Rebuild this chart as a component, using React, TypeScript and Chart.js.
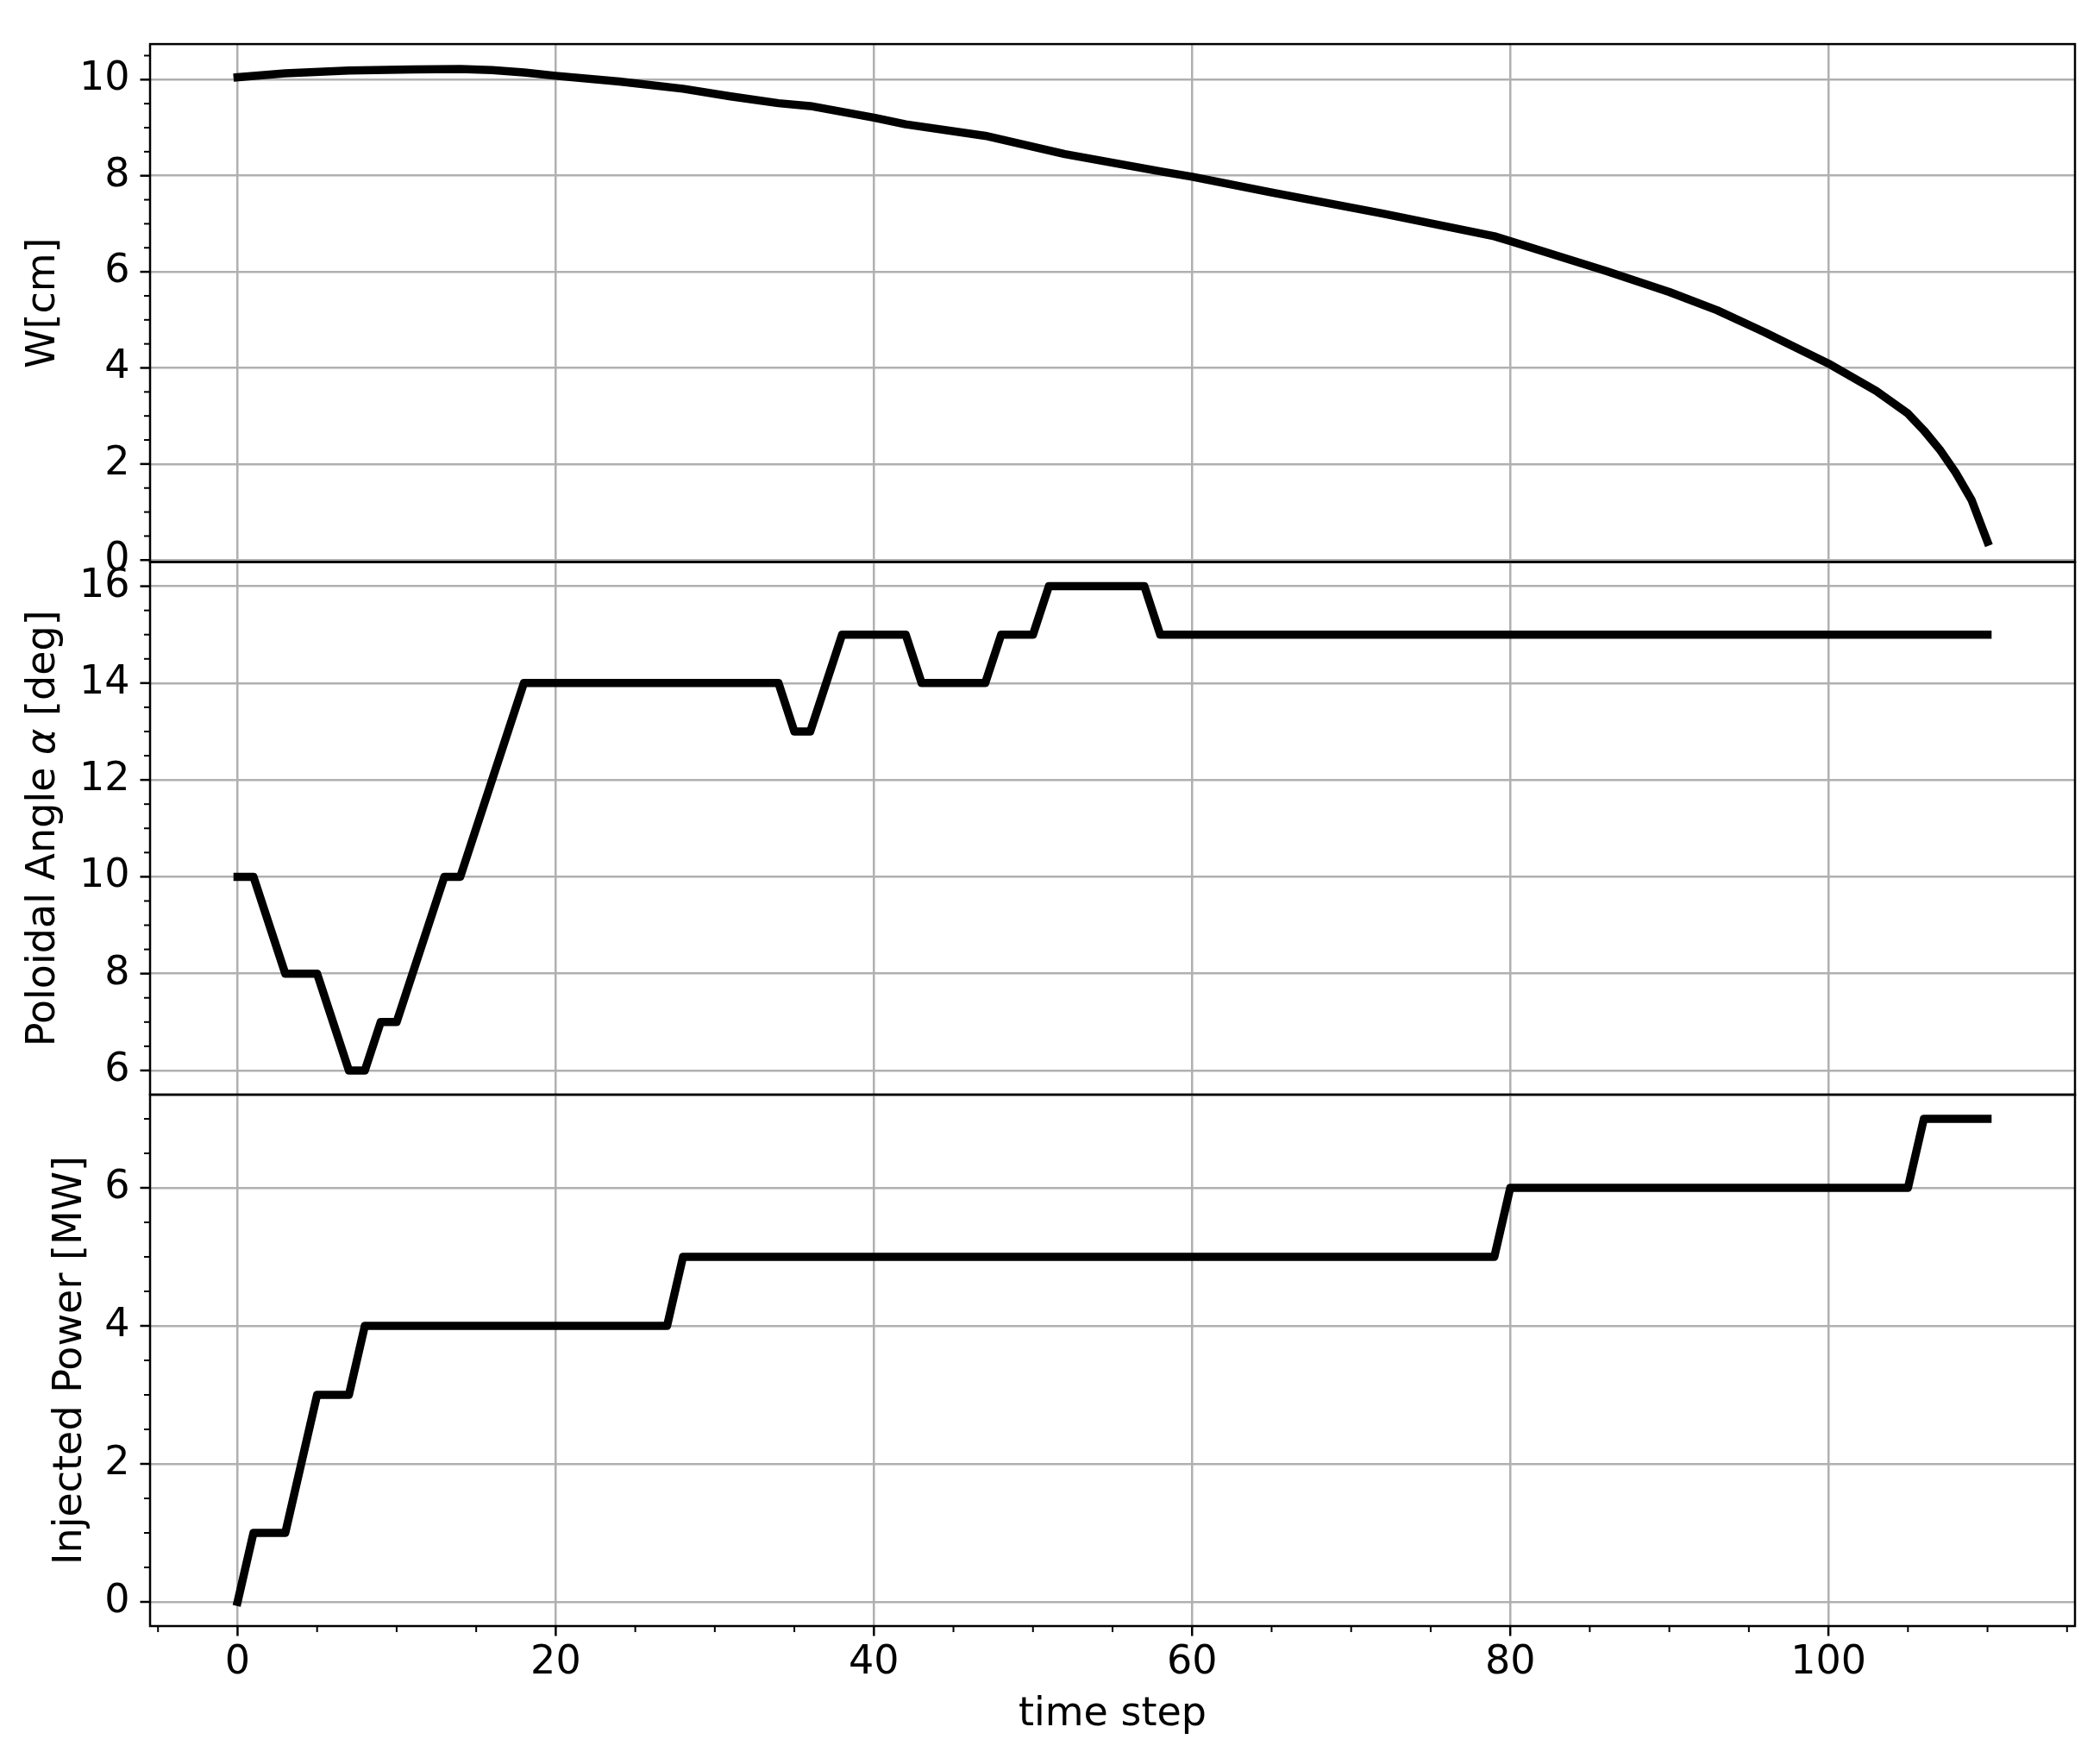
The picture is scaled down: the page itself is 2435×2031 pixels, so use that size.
import { useEffect, useRef } from "react";
import { Chart, registerables } from "chart.js";

Chart.register(...registerables);

const W = 2435;
const H = 2031;
const FONT = "DejaVu Sans";
const GRID = "#b0b0b0";

// x axis (time step)
const xMajorTicks = [0, 20, 40, 60, 80, 100];
const xMinorStep = 5;

// top panel: W[cm]
const wSteps = [0, 3, 7, 11, 14, 16, 18, 20, 24, 28, 31, 34, 36, 40, 42, 47, 52, 58, 60, 65, 72, 79, 80, 86, 90, 93, 96, 100, 103, 105, 106, 107, 108, 109, 110];
const wValues = [10.05, 10.13, 10.19, 10.21, 10.22, 10.2, 10.15, 10.08, 9.96, 9.81, 9.65, 9.51, 9.45, 9.21, 9.07, 8.83, 8.45, 8.09, 7.98, 7.65, 7.21, 6.74, 6.64, 6.02, 5.58, 5.2, 4.74, 4.09, 3.52, 3.05, 2.7, 2.3, 1.82, 1.25, 0.38];
const wTicks = [0, 2, 4, 6, 8, 10];

// middle panel: poloidal angle
const angleSteps = [0, 1, 3, 5, 7, 8, 9, 10, 13, 14, 18, 34, 35, 36, 38, 42, 43, 47, 48, 50, 51, 57, 58, 110];
const angleValues = [10, 10, 8, 8, 6, 6, 7, 7, 10, 10, 14, 14, 13, 13, 15, 15, 14, 14, 15, 15, 16, 16, 15, 15];
const angleTicks = [6, 8, 10, 12, 14, 16];

// bottom panel: injected power
const powerSteps = [0, 1, 3, 5, 7, 8, 27, 28, 79, 80, 105, 106, 110];
const powerValues = [0, 1, 1, 3, 3, 4, 4, 5, 5, 6, 6, 7, 7];
const powerTicks = [0, 2, 4, 6];

const PLOT_LEFT = 174;
const PLOT_RIGHT = 2406;
const LINE_HEIGHT = 46 * 1.2;

const range = (from: number, to: number, step: number) => {
  const out: number[] = [];
  const n = Math.round((to - from) / step);
  for (let i = 0; i <= n; i++) out.push(from + i * step);
  return out;
};

const isMajor = (v: number, majors: number[]) => majors.some(m => Math.abs(m - v) < 1e-6);

type Part = { text: string; italic?: boolean };

const panels = [
  {
    label: "W[cm]", parts: null as Part[] | null, steps: wSteps, values: wValues, majors: wTicks,
    minors: range(0, 10.5, 0.5), min: -0.04, max: 10.74,
    top: 36, bottom: 651.5, titlePad: 23.4, showX: false,
  },
  {
    label: "Poloidal Angle α [deg]",
    parts: [{ text: "Poloidal Angle " }, { text: "α", italic: true }, { text: " [deg]" }] as Part[] | null,
    steps: angleSteps, values: angleValues, majors: angleTicks,
    minors: range(6, 16, 0.5), min: 5.5, max: 16.5,
    top: 651.5, bottom: 1269, titlePad: 23.4, showX: false,
  },
  {
    label: "Injected Power [MW]", parts: null as Part[] | null, steps: powerSteps, values: powerValues, majors: powerTicks,
    minors: range(0, 7, 0.5), min: -0.35, max: 7.35,
    top: 1269, bottom: 1885, titlePad: 54, showX: true,
  },
];

// frame (all four spines), matplotlib-like major/minor tick marks, mixed-style y title
const framePlugin = {
  id: "frame",
  afterDraw(chart: any, _args: any, opts: any) {
    const { ctx, chartArea: a } = chart;
    ctx.save();
    ctx.strokeStyle = "#000";
    const marks = (scale: any, majors: number[], horizontal: boolean) => {
      scale.ticks.forEach((t: any) => {
        const p = scale.getPixelForValue(t.value);
        const major = isMajor(t.value, majors);
        const len = major ? 11.5 : 7;
        ctx.lineWidth = major ? 2.5 : 2;
        ctx.beginPath();
        if (horizontal) {
          ctx.moveTo(p, a.bottom);
          ctx.lineTo(p, a.bottom + len);
        } else {
          ctx.moveTo(a.left, p);
          ctx.lineTo(a.left - len, p);
        }
        ctx.stroke();
      });
    };
    const y = chart.scales.y;
    marks(y, opts.yMajors, false);
    if (opts.showX) marks(chart.scales.x, xMajorTicks, true);
    ctx.lineWidth = 2.5;
    ctx.strokeRect(a.left, a.top, a.right - a.left, a.bottom - a.top);

    if (opts.parts) {
      const fontOf = (p: Part) => `${p.italic ? "italic " : ""}46px "${FONT}"`;
      const widths = opts.parts.map((p: Part) => {
        ctx.font = fontOf(p);
        return ctx.measureText(p.text).width;
      });
      const total = widths.reduce((s: number, w: number) => s + w, 0);
      ctx.translate(y.left + LINE_HEIGHT / 2 + opts.titlePad, (y.top + y.bottom) / 2);
      ctx.rotate(-Math.PI / 2);
      ctx.fillStyle = "#000";
      ctx.textBaseline = "middle";
      ctx.textAlign = "left";
      let x = -total / 2;
      opts.parts.forEach((p: Part, i: number) => {
        ctx.font = fontOf(p);
        ctx.fillText(p.text, x, 0);
        x += widths[i];
      });
    }
    ctx.restore();
  },
};

function Panel({ cfg }: { cfg: (typeof panels)[number] }) {
  const canvasRef = useRef<HTMLCanvasElement>(null);

  useEffect(() => {
    if (!canvasRef.current) return;
    const font = { family: FONT, size: 46 };
    const xTicks = range(-5, 115, xMinorStep);

    const chart = new Chart(canvasRef.current, {
      type: "line",
      data: {
        datasets: [
          {
            data: cfg.steps.map((x, i) => ({ x, y: cfg.values[i] })),
            borderColor: "#000",
            borderWidth: 9.5,
            pointRadius: 0,
            tension: 0,
            fill: false,
            borderJoinStyle: "round",
            borderCapStyle: "square",
          },
        ],
      },
      options: {
        animation: false,
        responsive: false,
        devicePixelRatio: 1,
        events: [],
        layout: {
          padding: {
            left: 0,
            right: W - PLOT_RIGHT,
            top: cfg.top,
            bottom: cfg.showX ? 0 : H - cfg.bottom,
          },
        },
        plugins: {
          legend: { display: false },
          tooltip: { enabled: false },
          frame: { yMajors: cfg.majors, showX: cfg.showX, parts: cfg.parts, titlePad: cfg.titlePad },
        } as any,
        scales: {
          x: {
            type: "linear",
            min: -5.5,
            max: 115.5,
            afterBuildTicks: (s: any) => {
              s.ticks = xTicks.map(v => ({ value: v }));
            },
            afterFit: (s: any) => {
              s.height = cfg.showX ? H - cfg.bottom : 0;
            },
            grid: {
              color: (c: any) => (isMajor(c.tick.value, xMajorTicks) ? GRID : "rgba(0,0,0,0)"),
              lineWidth: 2.5,
              drawTicks: false,
            },
            border: { display: false },
            ticks: {
              display: cfg.showX,
              autoSkip: false,
              maxRotation: 0,
              padding: 15.4,
              color: "#000",
              font,
              callback: (v: any) => (isMajor(v, xMajorTicks) ? String(v) : ""),
            },
            title: {
              display: cfg.showX,
              text: "time step",
              color: "#000",
              font,
              padding: { top: 0, bottom: 15.4 },
            },
          },
          y: {
            type: "linear",
            min: cfg.min,
            max: cfg.max,
            afterBuildTicks: (s: any) => {
              s.ticks = cfg.minors.map(v => ({ value: v }));
            },
            afterFit: (s: any) => {
              s.width = PLOT_LEFT;
            },
            grid: {
              color: (c: any) => (isMajor(c.tick.value, cfg.majors) ? GRID : "rgba(0,0,0,0)"),
              lineWidth: 2.5,
              drawTicks: false,
            },
            border: { display: false },
            ticks: {
              autoSkip: false,
              padding: 23.5,
              color: "#000",
              font,
              callback: (v: any) => (isMajor(v, cfg.majors) ? String(Math.round(v)) : ""),
            },
            title: {
              display: !cfg.parts,
              text: cfg.label,
              color: "#000",
              font,
              padding: { top: cfg.titlePad, bottom: 0 },
            },
          },
        },
      },
      plugins: [framePlugin],
    } as any);

    return () => {
      chart.destroy();
    };
  }, [cfg]);

  return (
    <canvas
      ref={canvasRef}
      width={W}
      height={H}
      aria-label={cfg.label}
      style={{ position: "absolute", left: 0, top: 0, width: W, height: H, display: "block" }}
    />
  );
}

export default function App() {
  return (
    <div style={{ position: "absolute", left: 0, top: 0, width: W, height: H, background: "#fff", overflow: "hidden" }}>
      {panels.map(p => (
        <Panel key={p.label} cfg={p} />
      ))}
    </div>
  );
}
